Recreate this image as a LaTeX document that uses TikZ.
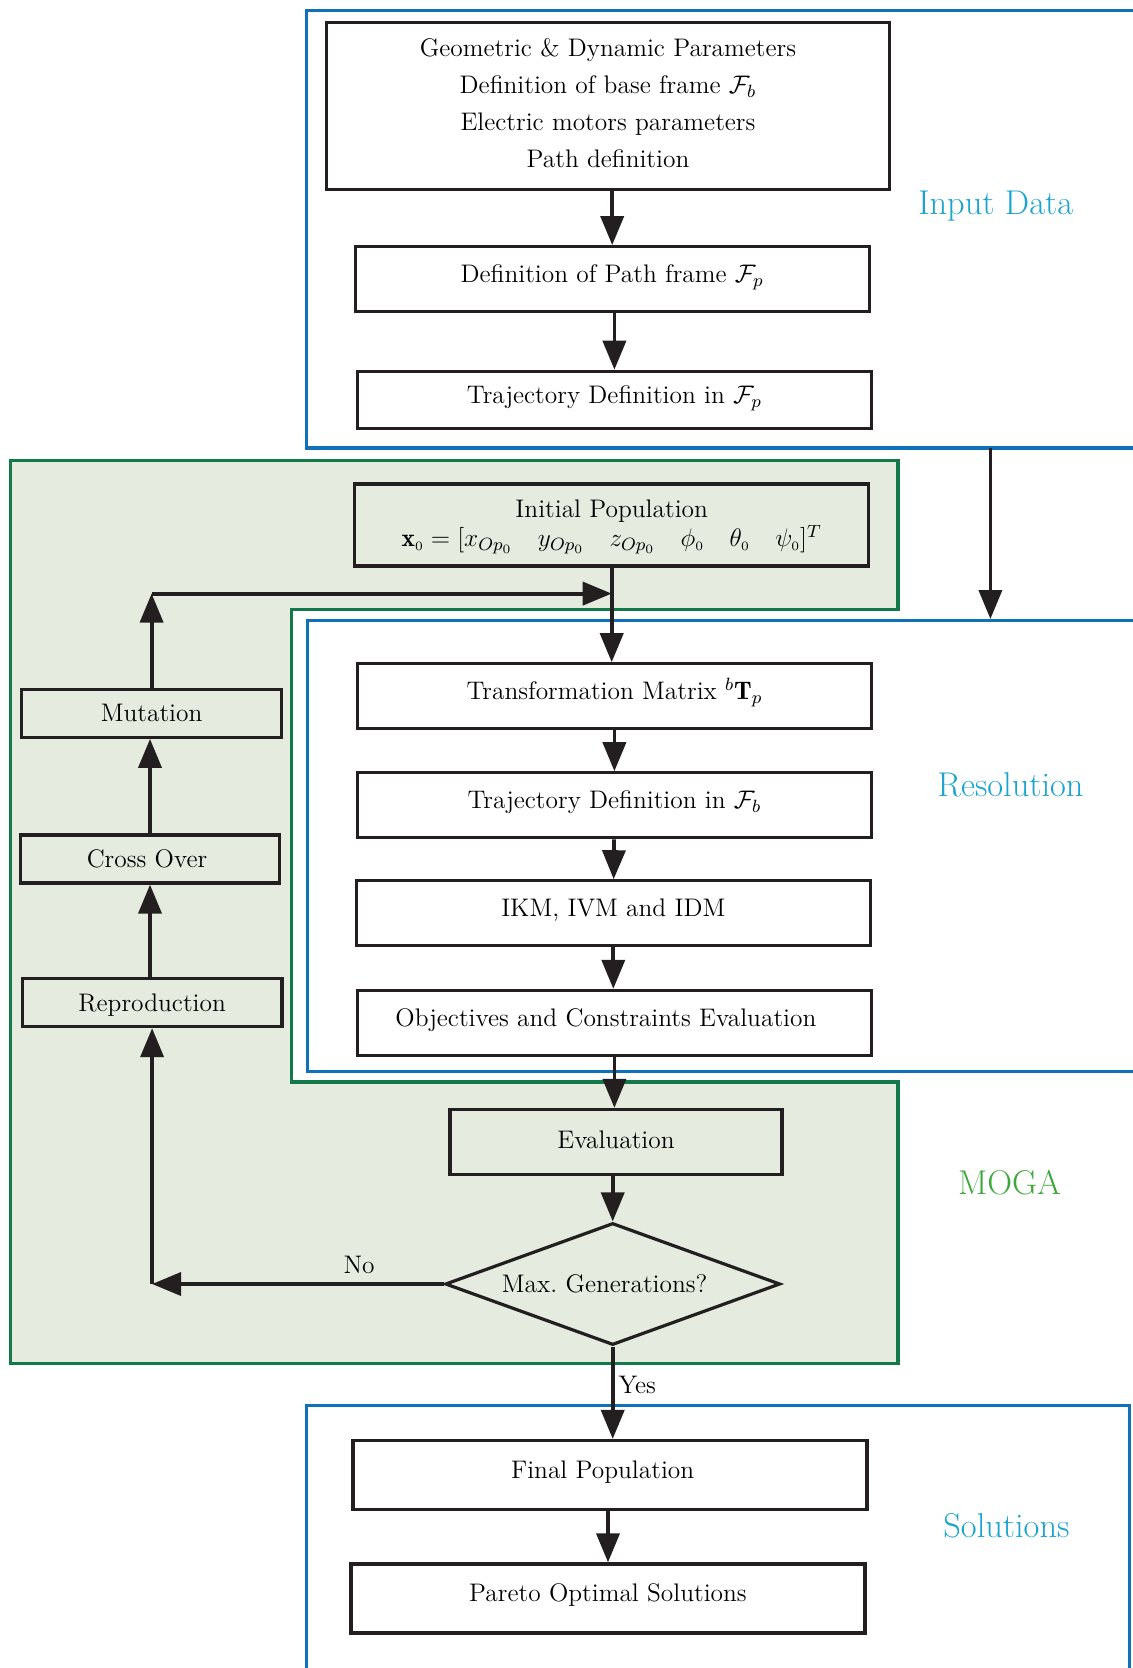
\documentclass[tikz,border=0pt]{standalone}
\usepackage{fix-cm}
\usepackage{amsmath, amssymb}
\usepackage{fontspec}
\usepackage{xcolor}
\usepackage{tikz}
\usetikzlibrary{arrows.meta, positioning, shapes.geometric}

\definecolor{ink}{HTML}{231F20}
\definecolor{frameblue}{HTML}{0F71BA}
\definecolor{labelblue}{HTML}{1BA3CF}
\definecolor{mogagreen}{HTML}{13784A}
\definecolor{mogafill}{HTML}{E5EBDF}
\definecolor{mogalabel}{HTML}{3DA83A}

\tikzset{
  box/.style={draw=ink, line width=1.6pt, minimum width=257pt, minimum height=32.5pt,
              inner sep=0pt, font=\fontsize{12.7}{15.6}\selectfont},
  blk/.style={box, text height=8.8pt, text depth=5.5pt},
  gablk/.style={blk, fill=mogafill, minimum width=129.8pt, minimum height=24pt, text depth=0.3pt},
  flow/.style={draw=ink, line width=1.9pt, -{Triangle[length=14.5pt, width=11.5pt]}},
  frame/.style={draw=frameblue, line width=1.6pt},
  tag/.style={font=\fontsize{17.2}{20}\selectfont},
}

\begin{document}
\begin{tikzpicture}[x=0.5pt, y=-0.5pt]
  \useasboundingbox (0,0) rectangle (1133,1668);
  \clip (0,0) rectangle (1133,1668);

  \draw[draw=mogagreen, fill=mogafill, line width=1.6pt]
    (10.6,460.6) -- (897.9,460.6) -- (897.9,609.6) -- (291.5,609.6)
    -- (291.5,1081.9) -- (897.9,1081.9) -- (897.9,1363.8) -- (10.6,1363.8) -- cycle;
  \draw[frame] (1140,10.6) -| (306.4,447.9) -- (1140,447.9);
  \draw[frame] (1140,620.2) -| (307.4,1071.2) -- (1140,1071.2);
  \draw[frame] (1129.8,1700) |- (306.4,1405.3) -- (306.4,1700);

  \node[box, minimum width=281.4pt, minimum height=83.5pt, align=center,
        font=\fontsize{12.7}{18.6}\selectfont] (params) at (608,105.9)
    {Geometric \& Dynamic Parameters\\ Definition of base frame $\mathcal{F}_b$\\
     Electric motors parameters\\ Path definition\rule[-3pt]{0pt}{0pt}};
  \node[blk] (pathframe) at (612.2,279.2) {Definition of Path frame $\mathcal{F}_p$};
  \node[blk, minimum height=28.7pt] (trajp) at (614.4,400) {Trajectory Definition in $\mathcal{F}_p$};

  \node[box, fill=mogafill, minimum height=41pt, align=center] (initpop) at (611.7,525)
    {\rule{0pt}{11pt}Initial Population\\[-1pt] $\mathbf{x}_{\scriptscriptstyle 0}=[x_{Op_0}\quad y_{Op_0}\quad z_{Op_0}\quad
     \phi_{\scriptscriptstyle 0}\quad \theta_{\scriptscriptstyle 0}\quad \psi_{\scriptscriptstyle 0}]^T$};
  \node[blk] (transf) at (614.4,696.3) {Transformation Matrix ${}^{b}\mathbf{T}_p$};
  \node[blk] (trajb) at (614.4,805.3) {Trajectory Definition in $\mathcal{F}_b$};
  \node[blk] (ikm) at (613.3,913.3) {IKM, IVM and IDM};
  \node[blk] (objev) at (614.4,1022.9) {Objectives and Constraints Evaluation\hspace*{8.5pt}};
  \node[blk, fill=mogafill, minimum width=166pt, text depth=2.5pt] (evalu) at (616,1142) {Evaluation};
  \node[diamond, draw=ink, line width=1.6pt, fill=mogafill, aspect=2.75, inner sep=0pt,
        minimum width=167.5pt, minimum height=61pt, font=\fontsize{12.7}{15.6}\selectfont]
    (maxgen) at (612.7,1284) {Max.\ Generations?\hspace*{8pt}};

  \node[gablk] (repro) at (152.1,1002.6) {Reproduction};
  \node[gablk] (cross) at (150,859) {Cross Over\hspace*{3pt}};
  \node[gablk] (mutat) at (151.6,713.3) {Mutation};

  \node[blk, minimum height=34.5pt] (finalpop) at (610,1475) {Final Population\hspace*{7.4pt}};
  \node[blk, minimum height=34.5pt] (pareto) at (608,1598.4) {Pareto Optimal Solutions};

  \node[tag, text=labelblue] (lblinput) at (995.7,206.4) {Input Data};
  \node[tag, text=labelblue] (lblres) at (1010.6,785.1) {Resolution};
  \node[tag, text=mogalabel] (lblmoga) at (1009.5,1183) {MOGA};
  \node[tag, text=labelblue] (lblsol) at (1006.4,1525.5) {Solutions};

  \coordinate (inbot) at (990.4,447.9);
  \coordinate (restop) at (990.4,619);
  \coordinate (looptop) at (152.1,593.6);
  \coordinate (nocorner) at (152.1,1284);

  \draw[flow] (pathframe.north |- params.south) -- (pathframe.north);
  \draw[flow] (trajp.north |- pathframe.south) -- (trajp.north);
  \draw[flow] (inbot) -- (restop);
  \draw[flow] (initpop.south) -- (initpop.south |- transf.north);
  \draw[flow] (transf) -- (trajb);
  \draw[flow] (trajb) -- (ikm);
  \draw[flow] (ikm.south) -- (ikm.south |- objev.north);
  \draw[flow] (objev.south) -- (objev.south |- evalu.north);
  \draw[flow] (maxgen.north |- evalu.south) -- (maxgen.north);
  \draw[flow] (maxgen.south) -- node[pos=0.42, right, inner sep=2pt,
    font=\fontsize{12.7}{15.6}\selectfont] {Yes} (maxgen.south |- finalpop.north);
  \draw[flow] (pareto.north |- finalpop.south) -- (pareto.north);

  \draw[flow] (maxgen.west) -- node[pos=0.29, above, inner sep=4pt,
    font=\fontsize{12.7}{15.6}\selectfont] {No} (nocorner);
  \draw[flow] (nocorner) -- (repro.south);
  \draw[flow] (cross.south |- repro.north) -- (cross.south);
  \draw[flow] (cross.north) -- (cross.north |- mutat.south);
  \draw[flow] (mutat.north) -- (mutat.north |- looptop);
  \draw[flow] (mutat.north |- looptop) -- (initpop.south |- looptop);
\end{tikzpicture}
\end{document}
